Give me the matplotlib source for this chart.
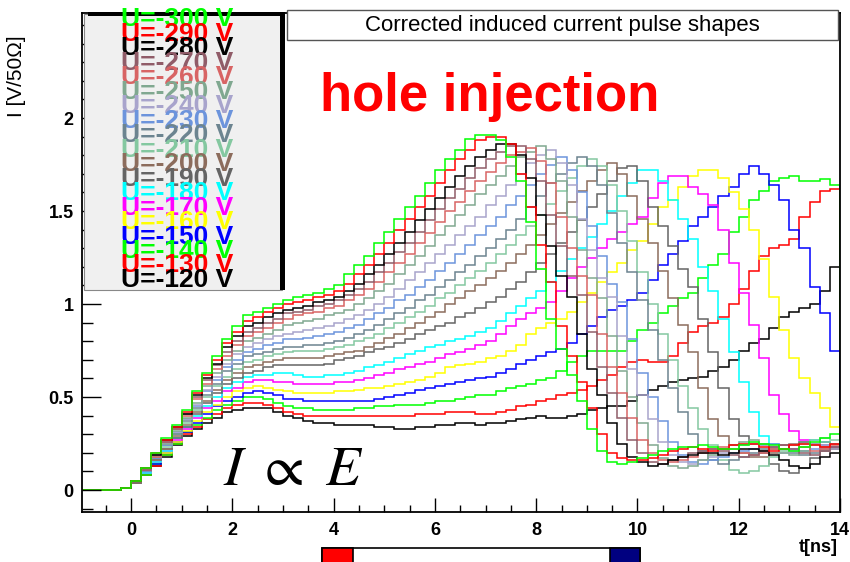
import numpy as np
import matplotlib
matplotlib.use("Agg")
import matplotlib.pyplot as plt
from matplotlib.patches import Rectangle
from matplotlib.ticker import MultipleLocator, FixedLocator, FuncFormatter

plt.rcParams['font.family'] = ['Liberation Sans', 'DejaVu Sans']
plt.rcParams['mathtext.fontset'] = 'stix'

# bias voltages, one pulse per voltage
volts = [300, 290, 280, 270, 260, 250, 240, 230, 220, 210,
         200, 190, 180, 170, 160, 150, 140, 130, 120]

colors = ['#00ff00', '#ff0000', '#000000', '#905c68', '#d86464', '#80a890',
          '#a8a4cc', '#6c94dc', '#6c8490', '#84c8a0', '#8c6c5c', '#646464',
          '#00ffff', '#ff00ff', '#ffff00', '#0000ff', '#00ff00', '#ff0000',
          '#000000']

# induced current [V/50 Ohm], bins of 0.2 ns starting at t = -1 ns
i300 = [0, 0, 0, 0, .01, .05, .12, .20, .28, .35, .43, .53, .63, .72, .81, .88, .94, .96,
        .98, 1.00, 1.02, 1.04, 1.05, 1.06, 1.08, 1.10, 1.16, 1.21, 1.26, 1.33, 1.39, 1.46, 1.52, 1.58, 1.65, 1.72, 1.78, 1.83,
        1.89, 1.91, 1.91, 1.88, 1.79, 1.66, 1.44, 1.19, .92, .76, .62, .48, .33, .21, .15, .14, .15, .17, .19, .21,
        .22, .23, .23, .24, .23, .22, .22, .24, .26, .25, .24, .22, .21, .23, .26, .28, .30]
i290 = [0, 0, 0, 0, .01, .05, .12, .20, .27, .34, .42, .52, .62, .70, .79, .85, .91, .93,
        .96, .98, 1.00, 1.01, 1.02, 1.04, 1.05, 1.07, 1.11, 1.16, 1.21, 1.27, 1.33, 1.40, 1.46, 1.52, 1.58, 1.65, 1.72, 1.78,
        1.83, 1.88, 1.90, 1.90, 1.86, 1.70, 1.52, 1.32, 1.12, .88, .72, .58, .44, .30, .20, .17, .16, .16, .17, .19,
        .21, .22, .23, .22, .21, .22, .24, .25, .25, .23, .21, .22, .24, .25, .24, .23, .25]
i280 = [0, 0, 0, 0, .01, .05, .12, .19, .27, .34, .41, .51, .60, .68, .77, .83, .88, .90,
        .93, .95, .97, .98, .99, 1.01, 1.02, 1.04, 1.07, 1.11, 1.16, 1.21, 1.27, 1.33, 1.39, 1.45, 1.51, 1.57, 1.63, 1.69,
        1.74, 1.79, 1.83, 1.86, 1.86, 1.80, 1.68, 1.48, 1.31, 1.15, 1.04, .84, .65, .51, .36, .25, .18, .15, .13, .14,
        .16, .18, .19, .20, .20, .19, .20, .22, .22, .21, .19, .16, .13, .12, .14, .18, .20]
i270 = [0, 0, 0, 0, .01, .05, .11, .19, .26, .33, .41, .50, .59, .67, .74, .80, .85, .87,
        .90, .92, .95, .96, .97, .99, 1.00, 1.02, 1.05, 1.08, 1.12, 1.17, 1.22, 1.28, 1.33, 1.39, 1.45, 1.51, 1.57, 1.62,
        1.68, 1.73, 1.78, 1.82, 1.85, 1.85, 1.78, 1.66, 1.48, 1.31, 1.15, 1.05, .85, .66, .52, .39, .27, .20, .15, .14,
        .16, .18, .20, .21, .22, .21, .19, .18, .19, .21, .23, .24, .22, .20, .19, .21, .23]
i260 = [0, 0, 0, 0, .01, .05, .11, .18, .26, .33, .40, .49, .57, .65, .72, .78, .83, .85,
        .87, .90, .92, .94, .95, .96, .98, .99, 1.02, 1.05, 1.08, 1.12, 1.17, 1.22, 1.27, 1.33, 1.38, 1.44, 1.50, 1.55,
        1.61, 1.66, 1.71, 1.76, 1.80, 1.82, 1.84, 1.77, 1.65, 1.47, 1.30, 1.15, 1.05, .84, .66, .52, .39, .27, .20, .16,
        .15, .16, .18, .20, .22, .23, .22, .20, .19, .20, .22, .24, .25, .23, .21, .22, .24]
i250 = [0, 0, 0, 0, .01, .05, .11, .18, .25, .32, .39, .47, .56, .63, .70, .75, .80, .82,
        .84, .86, .89, .90, .91, .92, .94, .95, .97, 1.00, 1.03, 1.07, 1.11, 1.16, 1.21, 1.26, 1.31, 1.37, 1.42, 1.48,
        1.53, 1.59, 1.64, 1.69, 1.74, 1.79, 1.82, 1.85, 1.78, 1.66, 1.47, 1.29, 1.14, 1.03, .83, .64, .50, .36, .24, .17,
        .13, .12, .13, .16, .19, .22, .24, .26, .27, .25, .22, .20, .19, .21, .24, .26, .25]
i240 = [0, 0, 0, 0, .01, .05, .11, .18, .25, .31, .38, .46, .54, .61, .68, .73, .77, .79,
        .81, .83, .84, .85, .86, .87, .88, .90, .92, .94, .97, 1.00, 1.04, 1.08, 1.13, 1.17, 1.22, 1.27, 1.32, 1.37,
        1.42, 1.47, 1.53, 1.58, 1.64, 1.70, 1.76, 1.80, 1.83, 1.76, 1.64, 1.46, 1.29, 1.14, 1.04, .83, .65, .51, .38, .26,
        .19, .15, .14, .16, .18, .20, .22, .24, .25, .24, .22, .20, .21, .23, .25, .24, .22]
i230 = [0, 0, 0, 0, .01, .05, .10, .17, .24, .31, .38, .45, .53, .59, .66, .70, .74, .76,
        .78, .79, .81, .81, .82, .83, .84, .85, .87, .89, .92, .95, .98, 1.02, 1.05, 1.09, 1.13, 1.18, 1.22, 1.27,
        1.32, 1.37, 1.42, 1.47, 1.53, 1.58, 1.64, 1.70, 1.75, 1.79, 1.72, 1.60, 1.42, 1.26, 1.11, 1.01, .81, .63, .50, .37,
        .26, .19, .15, .14, .16, .18, .20, .21, .22, .24, .25, .24, .22, .21, .22, .24, .25]
i220 = [0, 0, 0, 0, .01, .05, .10, .17, .24, .30, .37, .44, .51, .57, .64, .68, .72, .73,
        .74, .76, .77, .77, .78, .78, .79, .80, .82, .84, .86, .89, .92, .95, .98, 1.02, 1.05, 1.09, 1.13, 1.17,
        1.21, 1.26, 1.30, 1.35, 1.40, 1.46, 1.52, 1.58, 1.65, 1.70, 1.76, 1.79, 1.74, 1.64, 1.49, 1.33, 1.17, 1.02, .86, .70,
        .55, .42, .30, .21, .16, .14, .16, .18, .20, .22, .23, .22, .20, .19, .20, .22, .23]
i210 = [0, 0, 0, 0, .01, .05, .10, .17, .23, .30, .36, .43, .50, .56, .61, .65, .69, .70,
        .72, .73, .74, .75, .75, .75, .76, .77, .78, .80, .82, .84, .87, .90, .93, .96, .99, 1.03, 1.06, 1.10,
        1.14, 1.18, 1.22, 1.27, 1.32, 1.37, 1.42, 1.48, 1.54, 1.61, 1.68, 1.74, 1.78, 1.74, 1.64, 1.50, 1.34, 1.17, 1.00, .84,
        .70, .56, .44, .33, .24, .16, .11, .09, .10, .13, .18, .21, .24, .25, .27, .28, .27]
i200 = [0, 0, 0, 0, .01, .04, .10, .16, .22, .29, .35, .42, .48, .54, .59, .63, .66, .67,
        .69, .70, .71, .71, .71, .71, .72, .73, .74, .75, .77, .79, .82, .84, .87, .90, .93, .96, 1.00, 1.03,
        1.07, 1.10, 1.14, 1.18, 1.22, 1.27, 1.32, 1.37, 1.43, 1.49, 1.55, 1.61, 1.66, 1.72, 1.76, 1.70, 1.58, 1.46, 1.33, 1.18,
        1.03, .89, .74, .55, .38, .29, .24, .20, .18, .18, .20, .22, .24, .26, .25, .23, .22]
i190 = [0, 0, 0, 0, .01, .04, .10, .16, .22, .28, .34, .41, .47, .52, .57, .60, .63, .64,
        .66, .67, .67, .67, .67, .67, .68, .70, .71, .72, .74, .76, .77, .79, .81, .84, .86, .88, .90, .93,
        .95, .98, 1.01, 1.04, 1.08, 1.12, 1.17, 1.22, 1.27, 1.33, 1.39, 1.45, 1.52, 1.59, 1.66, 1.73, 1.74, 1.66, 1.52, 1.42,
        1.31, 1.19, 1.09, .92, .74, .55, .38, .29, .25, .20, .14, .10, .09, .12, .17, .21, .22]
i180 = [0, 0, 0, 0, .01, .04, .09, .15, .21, .28, .34, .40, .45, .50, .55, .58, .61, .62,
        .62, .63, .63, .62, .61, .61, .62, .62, .63, .64, .66, .67, .69, .71, .73, .75, .77, .78, .80, .81,
        .83, .85, .87, .91, .95, .99, 1.03, 1.07, 1.12, 1.18, 1.24, 1.30, 1.36, 1.43, 1.50, 1.58, 1.65, 1.72, 1.72, 1.66,
        1.56, 1.46, 1.35, 1.20, 1.07, .92, .74, .58, .42, .29, .25, .24, .25, .26, .27, .26, .25]
i170 = [0, 0, 0, 0, .01, .04, .09, .15, .21, .27, .33, .39, .44, .48, .53, .55, .58, .59,
        .59, .58, .58, .57, .57, .57, .57, .58, .58, .59, .60, .62, .63, .65, .66, .68, .69, .71, .73, .74,
        .76, .78, .80, .84, .88, .92, .95, .98, 1.01, 1.07, 1.14, 1.20, 1.25, 1.30, 1.35, 1.39, 1.43, 1.47, 1.57, 1.65,
        1.69, 1.69, 1.63, 1.59, 1.53, 1.40, 1.22, 1.06, .89, .71, .51, .41, .32, .27, .25, .24, .23]
i160 = [0, 0, 0, 0, .01, .04, .09, .15, .20, .26, .32, .37, .42, .46, .50, .53, .55, .56,
        .55, .54, .53, .52, .52, .52, .52, .53, .53, .54, .55, .55, .56, .57, .58, .59, .61, .63, .66, .67,
        .68, .69, .71, .72, .75, .78, .84, .87, .90, .92, .96, 1.01, 1.06, 1.12, 1.17, 1.22, 1.29, 1.34, 1.43, 1.52,
        1.56, 1.63, 1.69, 1.72, 1.72, 1.68, 1.60, 1.51, 1.40, 1.24, 1.04, .86, .71, .60, .52, .44, .34]
i150 = [0, 0, 0, 0, .01, .04, .09, .14, .20, .26, .31, .36, .41, .45, .48, .50, .52, .53,
        .52, .51, .49, .49, .48, .48, .48, .48, .48, .48, .48, .49, .50, .51, .52, .54, .55, .56, .57, .58,
        .59, .60, .61, .63, .65, .68, .70, .72, .74, .76, .79, .84, .88, .93, .97, .99, 1.02, 1.06, 1.13, 1.21,
        1.27, 1.34, 1.42, 1.47, 1.52, 1.58, 1.63, 1.70, 1.74, 1.70, 1.64, 1.56, 1.40, 1.30, 1.09, .95, .75]
i140 = [0, 0, 0, 0, .01, .04, .08, .14, .19, .25, .31, .35, .39, .43, .46, .48, .50, .50,
        .49, .47, .45, .44, .44, .43, .43, .43, .43, .44, .44, .45, .45, .46, .46, .46, .47, .48, .48, .49,
        .50, .51, .51, .53, .55, .56, .57, .59, .60, .64, .69, .72, .75, .75, .75, .75, .80, .86, .90, .95,
        .99, 1.03, 1.06, 1.14, 1.21, 1.27, 1.39, 1.47, 1.56, 1.61, 1.66, 1.68, 1.69, 1.66, 1.66, 1.67, 1.64]
i130 = [0, 0, 0, 0, .01, .04, .08, .13, .19, .25, .30, .34, .38, .41, .44, .46, .47, .47,
        .46, .44, .42, .41, .40, .40, .40, .40, .40, .40, .40, .40, .40, .40, .40, .41, .41, .41, .42, .42,
        .42, .41, .41, .42, .43, .45, .46, .48, .49, .51, .52, .54, .56, .59, .62, .66, .69, .70, .69, .69,
        .72, .79, .85, .88, .90, .93, 1.00, 1.08, 1.18, 1.26, 1.30, 1.32, 1.35, 1.47, 1.55, 1.61, 1.62]
i120 = [0, 0, 0, 0, .01, .04, .08, .13, .18, .24, .29, .33, .36, .39, .42, .43, .44, .44,
        .44, .42, .40, .39, .37, .36, .36, .35, .35, .35, .35, .34, .34, .33, .33, .34, .34, .35, .35, .36,
        .36, .35, .36, .36, .37, .38, .39, .40, .39, .39, .40, .41, .43, .44, .45, .45, .48, .51, .54, .56,
        .58, .59, .60, .61, .64, .66, .70, .75, .79, .81, .87, .93, .96, .98, 1.00, 1.07, 1.20]

pulses = [i300, i290, i280, i270, i260, i250, i240, i230, i220, i210,
          i200, i190, i180, i170, i160, i150, i140, i130, i120]

y_ticks = [0, 0.5, 1, 1.5, 2]

t_start = -1.0
t_bin = 0.2

W, H = 850, 562


def fx(x):
    return x / W


def fy(y):
    return 1 - y / H


def box(x0, y0, x1, y1, face, edge='black', lw=1.0, z=5):
    r = Rectangle((fx(x0), fy(y1)), (x1 - x0) / W, (y1 - y0) / H,
                  transform=fig.transFigure, facecolor=face, edgecolor=edge,
                  linewidth=lw, zorder=z)
    fig.add_artist(r)


fig = plt.figure(figsize=(8.5, 5.62), dpi=100)
ax = fig.add_axes([fx(82), fy(512), (840 - 82) / W, (512 - 13) / H])

# lowest voltage first so the 300 V pulse ends up on top
for vals, c in zip(pulses[::-1], colors[::-1]):
    edges = t_start + t_bin * np.arange(len(vals) + 1)
    ax.stairs(vals, edges, baseline=0, color=c, linewidth=1.1)

ax.set_xlim(-0.97, 14.0)
ax.set_ylim(-0.118, 2.565)

fmt = FuncFormatter(lambda v, p: '%g' % v)
ax.xaxis.set_major_locator(MultipleLocator(2))
ax.xaxis.set_minor_locator(MultipleLocator(0.5))
ax.yaxis.set_major_locator(FixedLocator(y_ticks))
ax.yaxis.set_minor_locator(MultipleLocator(0.1))
ax.xaxis.set_major_formatter(fmt)
ax.yaxis.set_major_formatter(fmt)
ax.tick_params(which='both', direction='in', top=False, right=False,
               width=1.0, colors='black')
ax.tick_params(axis='x', which='major', length=10, labelsize=13, pad=7)
ax.tick_params(axis='x', which='minor', length=5)
ax.tick_params(axis='y', which='major', length=14, labelsize=13, pad=6)
ax.tick_params(axis='y', which='minor', length=8)
for lab in ax.get_xticklabels() + ax.get_yticklabels():
    lab.set_fontweight('bold')
for s in ax.spines.values():
    s.set_linewidth(1.3)

# legend pad
box(84, 14, 282, 290, '#f0f0f0', edge='#888888', lw=0.8, z=5)
box(88, 12, 285, 16, 'black', edge='black', lw=0, z=5)
box(280, 12, 285, 290, 'black', edge='black', lw=0, z=5)
for i, (v, c) in enumerate(zip(volts, colors)):
    fig.text(fx(121), fy(19.5 + 14.47 * i), 'U=-%d V' % v, color=c,
             fontsize=19, fontweight='bold', ha='left', va='center',
             zorder=6 + i)

# title pad
box(287, 10, 838, 40, 'white', edge='#555555', lw=1.0, z=5)
fig.text(fx(562), fy(25.5), 'Corrected induced current pulse shapes',
         fontsize=16, ha='center', va='center', zorder=6)

fig.text(fx(490), fy(97), 'hole injection', color='#ff0000', fontsize=38,
         fontweight='bold', ha='center', va='center')
fig.text(fx(293), fy(470), r'$I\ \propto\ E$', fontsize=41,
         ha='center', va='center')

fig.text(fx(838), fy(548), 't[ns]', fontsize=13, fontweight='bold',
         ha='right', va='center')
fig.text(fx(17), fy(76), 'I [V/50Ω]', fontsize=15, rotation=90,
         ha='center', va='center')

# slide bar below the frame
box(322, 548, 640, 566, 'white', lw=1.2, z=5)
box(322, 548, 353, 566, '#ff0000', lw=1.2, z=6)
box(610, 548, 640, 566, '#000080', lw=1.2, z=6)

fig.savefig('out.png', dpi=100)
